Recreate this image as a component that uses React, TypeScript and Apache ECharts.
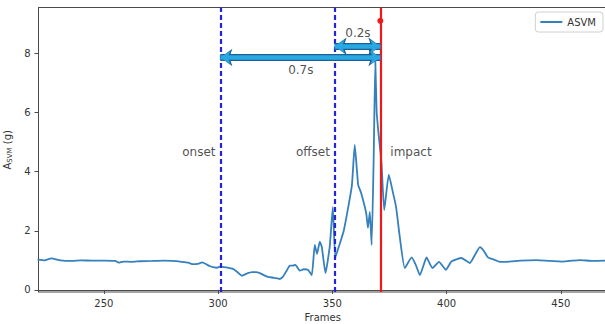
import React, { useEffect, useRef } from "react";
import * as echarts from "echarts";

const frames = [
  221, 224, 227, 231, 236, 240, 245, 250, 255, 256.5, 258.5, 262, 266, 271, 276, 280, 284, 287, 289, 291, 293, 296.5, 299.5,
  300.8, 303.5, 306.5, 308.5, 310.4, 312.5, 314.8, 316.5, 318.3, 320, 321.8, 324.5, 327, 328.3, 330, 331.4, 332.8, 333.8,
  335.8, 337.5, 339.3, 341, 342.3, 343.3, 344.5, 345.4, 347, 348.9, 350.2, 351.3, 353, 355, 358.5, 359.8, 361.3, 362.5,
  364.8, 365.6, 366.4, 367.2, 368.1, 368.8, 369.4, 370.2, 371.5, 372.7, 374.7, 376.5, 377.9, 379.5, 381.7, 384.7, 386.5,
  388.3, 390, 391.2, 393.8, 396.7, 399.7, 402.1, 406.5, 410.2, 412.5, 414.6, 416, 418.1, 420.2, 423.3, 427.7, 432.1,
  439.5, 445, 450.9, 455, 458.3, 464, 470,
];
const asvm = [
  1.03, 1.0, 1.07, 1.0, 0.98, 1.0, 0.99, 0.99, 0.98, 0.92, 0.96, 0.95, 0.97, 0.98, 0.99, 0.98, 0.95, 0.92, 0.87, 0.88, 0.93, 0.8, 0.75,
  0.79, 0.76, 0.71, 0.6, 0.48, 0.55, 0.6, 0.6, 0.57, 0.5, 0.44, 0.41, 0.37, 0.44, 0.65, 0.82, 0.82, 0.85,
  0.65, 0.7, 0.68, 0.5, 1.52, 1.22, 1.63, 1.45, 0.57, 1.5, 2.8, 1.1, 1.5, 2.0, 3.5, 4.9, 3.55, 3.3,
  2.6, 2.1, 2.64, 1.52, 4.5, 7.75, 6.0, 5.3, 4.3, 2.7, 3.9, 3.3, 2.8, 1.8, 0.74, 1.1, 0.85,
  0.5, 0.85, 1.1, 0.74, 0.95, 0.68, 0.96, 1.08, 0.91, 1.2, 1.45, 1.35, 1.1, 1.04, 0.95, 0.96, 0.99,
  1.01, 0.98, 0.96, 0.99, 1.01, 0.98, 0.99,
];

const xTicks = [250, 300, 350, 400, 450];
const yTicks = [0, 2, 4, 6, 8];

const eventFrames = [301, 351, 371];
const eventNames = ["onset", "offset", "impact"];
const eventLabelFrames = [291.6, 341.5, 384.4];
const eventLabelValue = 4.66;
const impactDotValue = 9.1;

const arrowStarts = [301, 351];
const arrowEnd = 371;
const arrowValues = [7.86, 8.24];
const arrowTexts = ["0.7s", "0.2s"];
const arrowTextFrames = [336.2, 361.2];
const arrowTextValues = [7.43, 8.68];

export default function App() {
  const ref = useRef<HTMLDivElement>(null);
  useEffect(() => {
    if (!ref.current) return;
    const chart = echarts.init(ref.current, undefined, { renderer: "svg" });
    const font = "DejaVu Sans";
    const lineData = frames.map((f, i) => [f, asvm[i]]);
    const textData = [
      ...eventNames.map((n, i) => [eventLabelFrames[i], eventLabelValue, n]),
      ...arrowTexts.map((t, i) => [arrowTextFrames[i], arrowTextValues[i], t]),
    ];
    const arrowOutline = arrowStarts.map((s, i) => [
      { coord: [s, arrowValues[i]], symbol: "arrow", symbolSize: [13, 12] },
      { coord: [arrowEnd, arrowValues[i]], symbol: "arrow", symbolSize: [13, 12] },
    ]);
    const arrowFill = arrowStarts.map((s, i) => [
      { coord: [s, arrowValues[i]], symbol: "arrow", symbolSize: [10, 10] },
      { coord: [arrowEnd, arrowValues[i]], symbol: "arrow", symbolSize: [10, 10] },
    ]);
    chart.setOption({
      animation: false,
      textStyle: { fontFamily: font },
      grid: {
        left: 38.5,
        right: -2,
        top: 7.5,
        bottom: 32,
        show: true,
        borderColor: "#4a4a4a",
        borderWidth: 1,
        containLabel: false,
        outerBoundsMode: "none",
      },
      legend: {
        data: [{ name: "ASVM", icon: "rect" }],
        right: 2,
        top: 12,
        padding: [5, 7, 5, 5],
        itemWidth: 22,
        itemHeight: 2,
        itemGap: 5,
        borderColor: "#d0d0d0",
        borderWidth: 1,
        borderRadius: 3,
        textStyle: { fontSize: 10, color: "#333", fontFamily: font },
      },
      xAxis: {
        type: "value",
        min: 221.4,
        max: 470.2,
        name: "Frames",
        nameLocation: "middle",
        nameGap: 20,
        nameTextStyle: { fontSize: 10, color: "#333", fontFamily: font },
        axisLine: { show: true, lineStyle: { color: "#4a4a4a", width: 1 } },
        axisTick: { show: true, length: 4, customValues: xTicks, lineStyle: { color: "#4a4a4a" } },
        axisLabel: { customValues: xTicks, fontSize: 10, color: "#333", margin: 6, fontFamily: font },
        splitLine: { show: false },
      },
      yAxis: {
        type: "value",
        min: -0.07,
        max: 9.55,
        name: "{a|A}{s|SVM}{a| (g)}",
        nameLocation: "middle",
        nameGap: 19,
        nameRotate: 90,
        nameTextStyle: {
          fontSize: 10,
          color: "#333",
          fontFamily: font,
          rich: {
            a: { fontSize: 10, color: "#333", fontFamily: font },
            s: { fontSize: 7, color: "#333", fontFamily: font, padding: [4, 0, 0, 0] },
          },
        },
        axisLine: { show: true, lineStyle: { color: "#4a4a4a", width: 1 } },
        axisTick: { show: true, length: 4, customValues: yTicks, lineStyle: { color: "#4a4a4a" } },
        axisLabel: { customValues: yTicks, fontSize: 10, color: "#333", margin: 8, fontFamily: font },
        splitLine: { show: false },
      },
      series: [
        {
          name: "ASVM",
          type: "line",
          data: lineData,
          symbol: "none",
          smooth: 0.15,
          lineStyle: { color: "#3580bd", width: 1.8 },
          itemStyle: { color: "#3580bd" },
          z: 2,
        },
        {
          name: "events",
          type: "line",
          data: [],
          z: 3,
          markLine: {
            silent: true,
            symbol: "none",
            label: { show: false },
            data: eventFrames.map((f, i) => ({
              xAxis: f,
              lineStyle:
                i < 2
                  ? { color: "#2323dd", width: 2.2, type: [5, 3] }
                  : { color: "#f01818", width: 2.2, type: "solid" },
            })),
          },
          markPoint: {
            silent: true,
            symbol: "circle",
            symbolSize: 6,
            itemStyle: { color: "#f01818" },
            label: { show: false },
            data: [{ coord: [eventFrames[2], impactDotValue] }],
          },
        },
        {
          name: "arrowOutline",
          type: "line",
          data: [],
          z: 4,
          markLine: {
            silent: true,
            label: { show: false },
            lineStyle: { color: "#1f5f95", width: 7, type: "solid" },
            itemStyle: { color: "#1f5f95" },
            data: arrowOutline,
          },
        },
        {
          name: "arrowFill",
          type: "line",
          data: [],
          z: 5,
          markLine: {
            silent: true,
            label: { show: false },
            lineStyle: { color: "#2aa8e2", width: 4.5, type: "solid" },
            itemStyle: { color: "#2aa8e2" },
            data: arrowFill,
          },
        },
        {
          name: "texts",
          type: "scatter",
          data: textData,
          symbolSize: 1,
          itemStyle: { color: "rgba(0,0,0,0)" },
          z: 6,
          label: {
            show: true,
            position: "inside",
            formatter: (p: any) => p.value[2],
            fontSize: 12,
            color: "#222",
            fontFamily: font,
          },
        },
      ],
    });
    return () => chart.dispose();
  }, []);
  return (
    <div
      ref={ref}
      style={{ position: "fixed", left: 0, top: 0, width: 605, height: 324, background: "#fff" }}
    />
  );
}
